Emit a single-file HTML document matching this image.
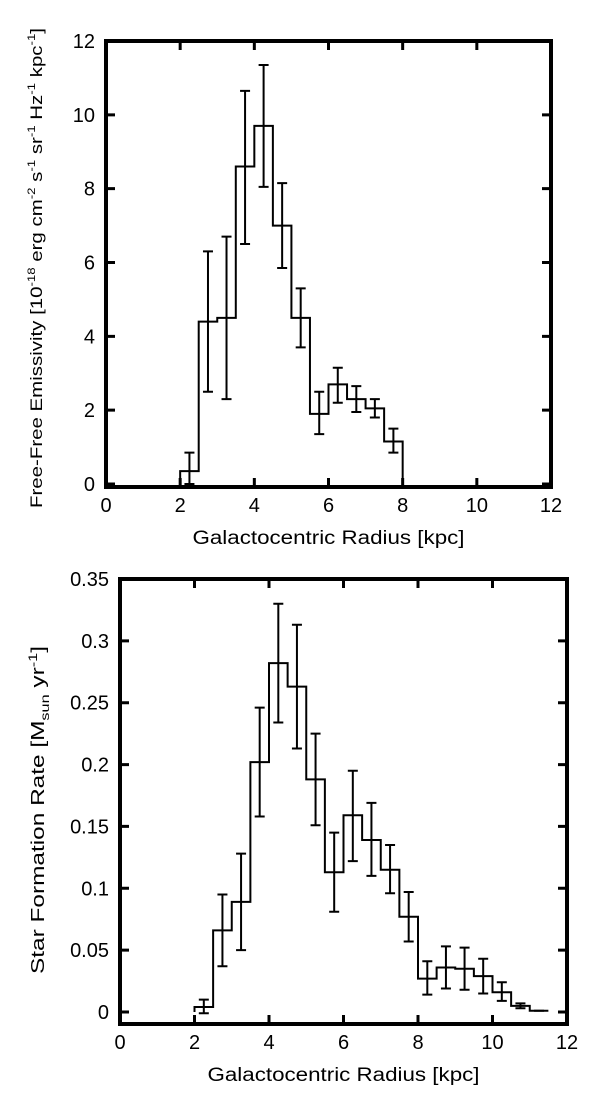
<!DOCTYPE html>
<html><head><meta charset="utf-8"><style>
body{margin:0;background:#fff;}
svg text{font-family:"Liberation Sans",sans-serif;fill:#000;}
</style></head><body>
<svg id="c" width="600" height="1100" xmlns="http://www.w3.org/2000/svg">
<g id="top"></g>
<g id="bot"></g>
</svg>
<script>
const binEdgesTop = [2,2.5,3,3.5,4,4.5,5,5.5,6,6.5,7,7.5,8];
const valuesTop = [0.35,4.4,4.5,8.6,9.7,7.0,4.5,1.9,2.7,2.3,2.05,1.15];
const errLowTop = [0,2.5,2.3,6.5,8.05,5.85,3.7,1.35,2.2,1.95,1.8,0.85];
const errHighTop = [0.85,6.3,6.7,10.65,11.35,8.15,5.3,2.5,3.15,2.65,2.3,1.5];
const yTicksTop = [0,2,4,6,8,10,12];
const xTicks = [0,2,4,6,8,10,12];

const binEdgesBot = [2,2.5,3,3.5,4,4.5,5,5.5,6,6.5,7,7.5,8,8.5,9,9.5,10,10.5,11,11.5];
const valuesBot = [0.004,0.066,0.089,0.202,0.282,0.263,0.188,0.113,0.159,0.139,0.115,0.077,0.027,0.036,0.035,0.029,0.016,0.005,0.001];
const errLowBot = [-0.001,0.037,0.05,0.158,0.234,0.213,0.151,0.081,0.122,0.11,0.096,0.057,0.014,0.019,0.018,0.015,0.009,0.003,0.001];
const errHighBot = [0.01,0.095,0.128,0.246,0.33,0.313,0.225,0.145,0.195,0.169,0.135,0.097,0.041,0.053,0.052,0.043,0.024,0.007,0.001];
const yTicksBot = [0,0.05,0.1,0.15,0.2,0.25,0.3,0.35];
const yTickLabelsBot = ["0","0.05","0.1","0.15","0.2","0.25","0.3","0.35"];

const NS="http://www.w3.org/2000/svg";
function mk(tag, attrs, parent){const e=document.createElementNS(NS,tag);for(const k in attrs)e.setAttribute(k,attrs[k]);parent.appendChild(e);return e;}

function draw(g, o){
  const xs=v=>o.x0+(v-o.xmin)/(o.xmax-o.xmin)*(o.x1-o.x0);
  const ys=v=>o.y0-(v-o.ymin)/(o.ymax-o.ymin)*(o.y0-o.y1);
  let d="M"+xs(o.edges[0])+","+ys(0);
  for(let i=0;i<o.vals.length;i++){d+=" L"+xs(o.edges[i])+","+ys(o.vals[i])+" L"+xs(o.edges[i+1])+","+ys(o.vals[i]);}
  if(o.dropEnd) d+=" L"+xs(o.edges[o.edges.length-1])+","+ys(0);
  const p=mk("path",{d:d,fill:"none",stroke:"#000","stroke-width":2},g);
  
  
  for(let i=0;i<o.vals.length;i++){
    const cx=xs((o.edges[i]+o.edges[i+1])/2);
    const a=ys(o.lo[i]), b=ys(o.hi[i]);
    const eb=mk("path",{d:`M${cx},${a} L${cx},${b} M${cx-5},${a} L${cx+5},${a} M${cx-5},${b} L${cx+5},${b}`,fill:"none",stroke:"#000","stroke-width":2},g);
    
    
  }
  const fr=mk("rect",{x:o.x0,y:o.y1,width:o.x1-o.x0,height:o.y0b-o.y1,fill:"none",stroke:"#000","stroke-width":4},g);
  
  
  o.yt.forEach((v,i)=>{
    const y=ys(v);
    const t=mk("path",{d:`M${o.x0},${y} L${o.x0+9},${y} M${o.x1},${y} L${o.x1-9},${y}`,stroke:"#000","stroke-width":3},g);
    
    
    const tx=mk("text",{x:o.x0-11,y:y+7,"text-anchor":"end","font-size":20},g);
    tx.textContent=o.ytl[i];
    
    
  });
  xTicks.forEach(v=>{
    const x=xs(v);
    const t=mk("path",{d:`M${x},${o.y0b} L${x},${o.y0b-9} M${x},${o.y1} L${x},${o.y1+9}`,stroke:"#000","stroke-width":3},g);
    
    
    const tx=mk("text",{x:x,y:o.y0b+25,"text-anchor":"middle","font-size":20},g);
    tx.textContent=String(v);
    
    
  });
  const xl=mk("text",{x:(o.x0+o.x1)/2,y:o.y0b+57,"text-anchor":"middle","font-size":19,textLength:272,lengthAdjust:"spacingAndGlyphs"},g);
  xl.textContent="Galactocentric Radius [kpc]";
  
  
}

draw(document.getElementById('top'),{x0:106,x1:551,y0:484,y0b:487,y1:41,xmin:0,xmax:12,ymin:0,ymax:12,
  edges:binEdgesTop,vals:valuesTop,lo:errLowTop,hi:errHighTop,yt:yTicksTop,ytl:yTicksTop.map(String),dropEnd:true});
draw(document.getElementById('bot'),{x0:120,x1:567,y0:1012,y0b:1024,y1:579,xmin:0,xmax:12,ymin:0,ymax:0.35,
  edges:binEdgesBot,vals:valuesBot,lo:errLowBot,hi:errHighBot,yt:yTicksBot,ytl:yTickLabelsBot,dropEnd:false});
</script>
<svg style="position:absolute;left:0;top:0" width="600" height="1100" xmlns="http://www.w3.org/2000/svg">
<text transform="translate(42,268) rotate(-90)" text-anchor="middle" font-size="17" textLength="480" lengthAdjust="spacingAndGlyphs">Free-Free Emissivity [10<tspan dy="-7" font-size="11">-18</tspan><tspan dy="7"> erg cm</tspan><tspan dy="-7" font-size="11">-2</tspan><tspan dy="7"> s</tspan><tspan dy="-7" font-size="11">-1</tspan><tspan dy="7"> sr</tspan><tspan dy="-7" font-size="11">-1</tspan><tspan dy="7"> Hz</tspan><tspan dy="-7" font-size="11">-1</tspan><tspan dy="7"> kpc</tspan><tspan dy="-7" font-size="11">-1</tspan><tspan dy="7">]</tspan></text>
<text transform="translate(44,810) rotate(-90)" text-anchor="middle" font-size="18" textLength="328" lengthAdjust="spacingAndGlyphs">Star Formation Rate [M<tspan dy="5" font-size="12">sun</tspan><tspan dy="-5"> yr</tspan><tspan dy="-7" font-size="12">-1</tspan><tspan dy="7">]</tspan></text>
</svg>
</body></html>
